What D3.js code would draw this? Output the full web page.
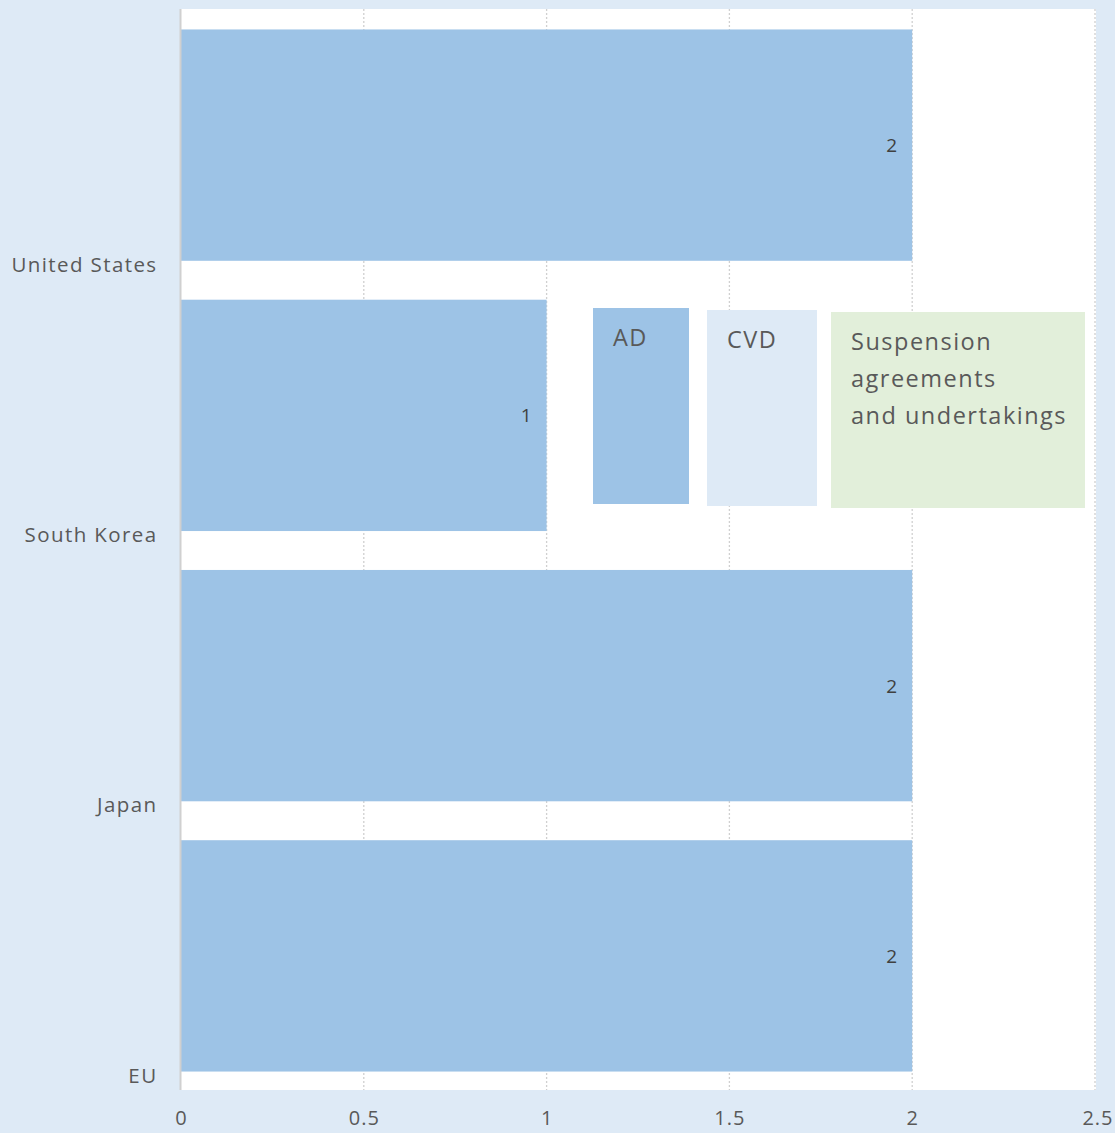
<!DOCTYPE html>
<html>
<head>
<meta charset="utf-8">
<script src="https://cdn.jsdelivr.net/npm/d3@7"></script>
<style>
  html, body { margin: 0; padding: 0; background: #deeaf6; }
  svg { display: block; }
</style>
</head>
<body>
<svg id="chart" width="1115" height="1133"></svg>
<script>
const categories = ["United States", "South Korea", "Japan", "EU"];
const adValues = [2, 1, 2, 2];
const xTicks = [0, 0.5, 1, 1.5, 2, 2.5];
const xTickLabels = ["0", "0.5", "1", "1.5", "2", "2.5"];
const legendLabels = [["AD"], ["CVD"], ["Suspension", "agreements", "and undertakings"]];
const legendColors = ["#9dc3e6", "#deeaf6", "#e2efda"];

const W = 1115, H = 1133;
const plot = { left: 181, right: 1096, top: 9, bottom: 1090 };
const svg = d3.select("#chart");
const font = "'Open Sans', 'Noto Sans', sans-serif";

svg.append("rect").attr("width", W).attr("height", H).attr("fill", "#deeaf6");
svg.append("rect")
  .attr("x", plot.left).attr("y", plot.top)
  .attr("width", plot.right - plot.left).attr("height", plot.bottom - plot.top)
  .attr("fill", "#ffffff");

const x = d3.scaleLinear().domain([0, 2.5]).range([plot.left, plot.right - 1]);
const y = d3.scaleBand().domain(categories)
  .range([plot.top + 1, plot.bottom + 1]).paddingInner(0.144).paddingOuter(0.072);

// gridlines
svg.append("g").selectAll("line").data(xTicks.filter(t => t > 0)).join("line")
  .attr("x1", d => x(d)).attr("x2", d => x(d))
  .attr("y1", plot.top).attr("y2", plot.bottom)
  .attr("stroke", "#d0d0d0").attr("stroke-width", 1.3).attr("stroke-dasharray", "2,2");

// bars
svg.append("g").selectAll("rect").data(categories).join("rect")
  .attr("x", x(0)).attr("y", d => y(d))
  .attr("width", (d, i) => x(adValues[i]) - x(0))
  .attr("height", y.bandwidth())
  .attr("fill", "#9dc3e6");

// value labels
svg.append("g").selectAll("text").data(categories).join("text")
  .attr("x", (d, i) => x(adValues[i]) - 15)
  .attr("y", d => y(d) + y.bandwidth() / 2)
  .attr("text-anchor", "end").attr("dominant-baseline", "central")
  .attr("font-family", font).attr("font-size", 19).attr("fill", "#404040")
  .text((d, i) => adValues[i]);

// left axis line
svg.append("line")
  .attr("x1", plot.left - 0.5).attr("x2", plot.left - 0.5)
  .attr("y1", plot.top).attr("y2", plot.bottom)
  .attr("stroke", "#d0d0d0").attr("stroke-width", 2);

// category labels (at band bottoms, as in the reference)
svg.append("g").selectAll("text").data(categories).join("text")
  .attr("x", 157.5)
  .attr("y", d => y(d) + y.bandwidth() + 3)
  .attr("text-anchor", "end").attr("dominant-baseline", "central")
  .attr("font-family", font).attr("font-size", 20.5).attr("letter-spacing", 1.4).attr("fill", "#595959")
  .text(d => d);

// x tick labels
const xAxis = d3.axisBottom(x).tickValues(xTicks).tickFormat((d, i) => xTickLabels[i]).tickSize(0);
const gx = svg.append("g").attr("transform", `translate(0,${plot.bottom + 18})`).call(xAxis);
gx.select(".domain").remove();
gx.selectAll("text").attr("font-family", font).attr("font-size", 20).attr("letter-spacing", 1).attr("fill", "#595959");
gx.selectAll(".tick").filter(d => d === 2.5).select("text").attr("text-anchor", "end").attr("dx", 18);

// legend boxes
const legendBoxes = [
  { x: 593, y: 308, w: 96, h: 196 },
  { x: 707, y: 310, w: 110, h: 196 },
  { x: 831, y: 312, w: 254, h: 196 }
];
const lg = svg.append("g");
legendBoxes.forEach((b, i) => {
  lg.append("rect").attr("x", b.x).attr("y", b.y).attr("width", b.w).attr("height", b.h)
    .attr("fill", legendColors[i]);
  const t = lg.append("text").attr("font-family", font).attr("font-size", 23.5)
    .attr("letter-spacing", 1.5).attr("fill", "#595959");
  legendLabels[i].forEach((line, j) => {
    t.append("tspan").attr("x", b.x + 20).attr("y", b.y + 30 + j * 37 + 8).text(line);
  });
});
</script>
</body>
</html>
